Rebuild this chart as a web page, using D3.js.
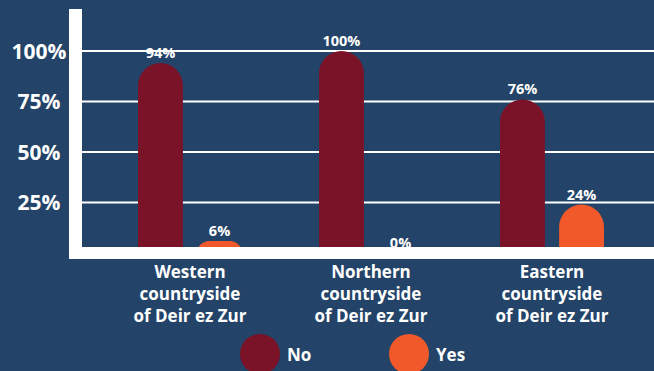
<!DOCTYPE html>
<html>
<head>
<meta charset="utf-8">
<script src="https://cdn.jsdelivr.net/npm/d3@7"></script>
<style>
  html, body { margin: 0; padding: 0; background: #234468; }
  svg { display: block; }
  text { font-family: "Open Sans", "DejaVu Sans", sans-serif; font-weight: 700; fill: #ffffff; }
</style>
</head>
<body>
<svg id="chart" width="654" height="371"></svg>
<script>
// Regions surveyed, one label line per entry
const regions = [
  ["Western", "countryside", "of Deir ez Zur"],
  ["Northern", "countryside", "of Deir ez Zur"],
  ["Eastern", "countryside", "of Deir ez Zur"]
];
const series = ["No", "Yes"];
const noValues = [94, 100, 76];
const yesValues = [6, 0, 24];
const yTicks = [25, 50, 75, 100];
const colors = { No: "#7b1328", Yes: "#f1582a" };

const W = 654, H = 371;
const svg = d3.select("#chart");

const regionKeys = regions.map(r => r[0]);
const rows = regionKeys.map((k, i) => ({ key: k, No: noValues[i], Yes: yesValues[i] }));

const y = d3.scaleLinear().domain([0, 100]).range([253, 51]);
const x0 = d3.scaleBand().domain(regionKeys).range([99.5, 642.5]);
const groupW = 104;
const x1 = d3.scaleBand().domain(series).range([0, groupW]).paddingInner(0.24);

// Horizontal gridlines
svg.append("g")
  .selectAll("line")
  .data(yTicks)
  .join("line")
  .attr("x1", 82).attr("x2", W)
  .attr("y1", d => y(d)).attr("y2", d => y(d))
  .attr("stroke", "#ffffff")
  .attr("stroke-width", 2);

// Y tick labels
svg.append("g")
  .selectAll("text")
  .data(yTicks)
  .join("text")
  .attr("x", 39)
  .attr("y", d => y(d))
  .attr("dy", "0.36em")
  .attr("text-anchor", "middle")
  .attr("font-size", 21)
  .text(d => d + "%");

// Bars with rounded tops
function barPath(x, top, w, bottom) {
  const h = bottom - top;
  const r = Math.max(0, Math.min(w / 2, h));
  return `M${x},${bottom}V${top + r}` +
    `A${r},${r} 0 0 1 ${x + r},${top}` +
    `H${x + w - r}` +
    `A${r},${r} 0 0 1 ${x + w},${top + r}` +
    `V${bottom}Z`;
}

const bars = [];
rows.forEach(r => series.forEach(s => bars.push({ key: r.key, s, v: r[s] })));
const bx = d => x0(d.key) + x0.bandwidth() / 2 - groupW / 2 + x1(d.s);

svg.append("g")
  .selectAll("path")
  .data(bars.filter(d => d.v > 0))
  .join("path")
  .attr("d", d => barPath(bx(d), y(d.v), x1.bandwidth(), y(0)))
  .attr("fill", d => colors[d.s]);

// Value labels
svg.append("g")
  .selectAll("text")
  .data(bars)
  .join("text")
  .attr("x", d => bx(d) + x1.bandwidth() / 2)
  .attr("y", d => y(d.v) - 5)
  .attr("text-anchor", "middle")
  .attr("font-size", 14.5)
  .text(d => d.v + "%");

// Axis frame: left post and bottom base
svg.append("rect").attr("x", 69).attr("y", 9).attr("width", 13).attr("height", 250).attr("fill", "#ffffff");
svg.append("rect").attr("x", 69).attr("y", 247).attr("width", W - 69).attr("height", 12).attr("fill", "#ffffff");

// Category labels
const cat = svg.append("g")
  .selectAll("text")
  .data(regions)
  .join("text")
  .attr("x", d => x0(d[0]) + x0.bandwidth() / 2)
  .attr("y", 278)
  .attr("text-anchor", "middle")
  .attr("font-size", 17);
cat.selectAll("tspan")
  .data(d => d)
  .join("tspan")
  .attr("x", function () { return d3.select(this.parentNode).attr("x"); })
  .attr("dy", (d, i) => i === 0 ? 0 : 22)
  .text(d => d);

// Legend
const legendX = [260, 409];
const lg = svg.append("g")
  .selectAll("g")
  .data(series)
  .join("g")
  .attr("transform", (d, i) => `translate(${legendX[i]},354)`);
lg.append("circle").attr("r", 20).attr("fill", d => colors[d]);
lg.append("text")
  .attr("x", 27)
  .attr("y", 6.5)
  .attr("font-size", 17)
  .text(d => d);
</script>
</body>
</html>
